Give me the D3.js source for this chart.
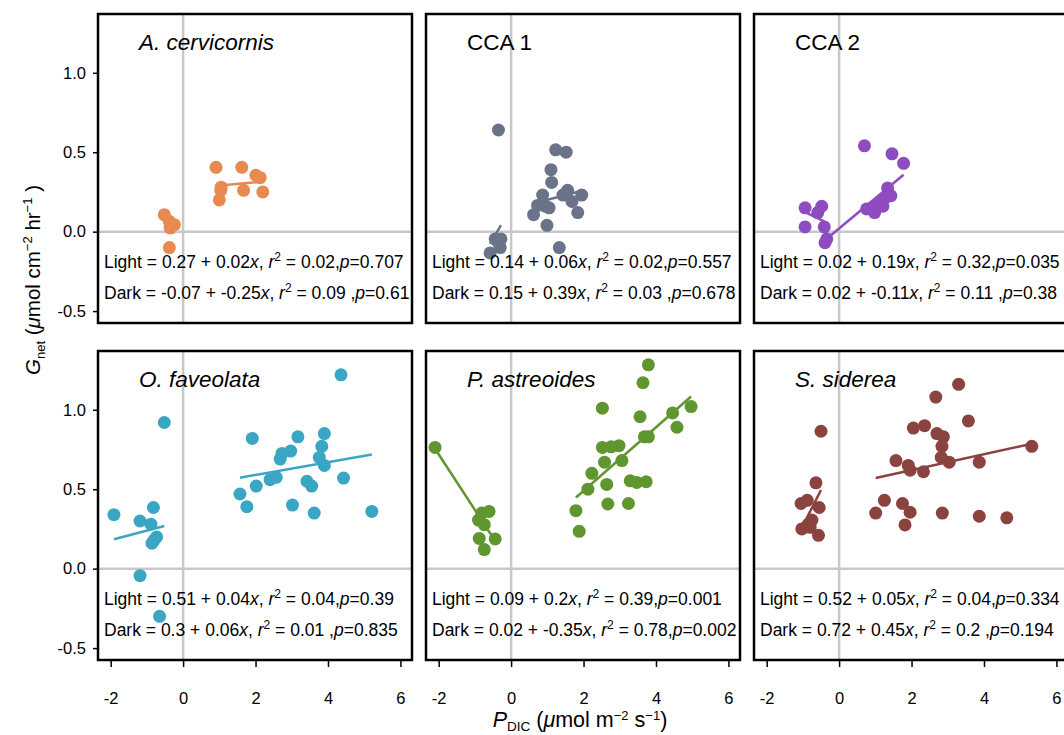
<!DOCTYPE html>
<meta charset="utf-8">
<html>
<head>
<title>Gnet vs PDIC</title>
<style>
  body { margin: 0; background: #fff; }
  text { font-family: "Liberation Sans", Arial, sans-serif; fill: #000; }
</style>
</head>
<body>
<div id="my_dataviz"></div>

<script src="https://d3js.org/d3.v7.min.js"></script>
<script>

// panel names, colours
var panelNames = ["A. cervicornis", "CCA 1", "CCA 2", "O. faveolata", "P. astreoides", "S. siderea"];
var panelItalic = [true, false, false, true, true, true];
var panelColors = ["#E8894F", "#6B7388", "#8E4CC0", "#3AA6C3", "#5F962F", "#8A433E"];

// points, [PDIC, Gnet]
var acerLight = [[0.91,0.405],[1.62,0.405],[2.01,0.355],[2.13,0.34],[1.04,0.26],[1.00,0.20],[1.67,0.26],[2.20,0.25],[1.05,0.28]];
var acerDark  = [[-0.52,0.107],[-0.38,0.065],[-0.24,0.044],[-0.36,0.023],[-0.38,-0.10]];

var cca1Light = [[1.23,0.515],[1.52,0.50],[1.10,0.39],[1.12,0.31],[0.87,0.23],[1.56,0.26],[1.43,0.23],[1.95,0.23],[1.68,0.19],
                 [0.73,0.165],[0.94,0.16],[1.05,0.15],[0.62,0.107],[1.84,0.12],[0.99,0.04],[1.33,-0.10]];
var cca1Dark  = [[-0.35,0.64],[-0.44,-0.046],[-0.28,-0.046],[-0.58,-0.134],[-0.30,-0.10],[-0.35,-0.07]];

var cca2Light = [[0.70,0.54],[1.46,0.49],[1.78,0.43],[1.34,0.275],[1.43,0.226],[0.76,0.143],[0.98,0.12],[1.09,0.176],
                 [1.21,0.16],[0.90,0.15],[1.26,0.21],[-0.34,-0.046],[-0.39,-0.07]];
var cca2Dark  = [[-0.94,0.15],[-0.48,0.16],[-0.59,0.12],[-0.94,0.03],[-0.41,0.03]];

var ofavLight = [[4.36,1.22],[1.91,0.82],[3.17,0.83],[3.90,0.85],[3.83,0.77],[2.73,0.725],[2.97,0.74],[2.68,0.69],[3.76,0.70],
                 [3.90,0.65],[2.40,0.56],[2.57,0.575],[3.42,0.55],[3.55,0.52],[4.43,0.57],[2.02,0.52],[1.57,0.47],[1.76,0.39],
                 [3.02,0.40],[3.62,0.35],[5.21,0.36]];
var ofavDark  = [[-0.52,0.92],[-1.91,0.34],[-0.82,0.385],[-1.19,0.30],[-0.89,0.28],[-0.73,0.20],[-0.80,0.18],[-0.86,0.16],
                 [-1.19,-0.044],[-0.65,-0.30]];

var pastLight = [[3.79,1.283],[3.64,1.17],[2.52,1.01],[3.56,0.956],[4.97,1.02],[4.46,0.98],[4.58,0.89],[3.68,0.83],[3.79,0.83],
                 [2.52,0.763],[2.76,0.767],[2.98,0.774],[2.58,0.67],[3.06,0.68],[2.23,0.60],[2.12,0.50],[2.64,0.53],[3.29,0.553],
                 [3.47,0.543],[3.73,0.547],[1.79,0.365],[2.67,0.407],[3.24,0.41],[1.88,0.235]];
var pastDark  = [[-2.10,0.763],[-0.81,0.35],[-0.61,0.36],[-0.90,0.306],[-0.74,0.277],[-0.88,0.19],[-0.44,0.187],[-0.74,0.12]];

var ssidLight = [[3.30,1.16],[2.67,1.08],[3.57,0.93],[2.05,0.885],[2.36,0.90],[2.70,0.85],[2.88,0.83],[2.84,0.77],[2.82,0.70],
                 [3.04,0.67],[5.32,0.77],[3.87,0.67],[1.57,0.68],[1.91,0.65],[1.96,0.62],[2.33,0.61],[1.25,0.43],[1.75,0.41],
                 [1.01,0.35],[1.96,0.355],[2.85,0.35],[3.87,0.33],[4.63,0.32],[1.82,0.275]];
var ssidDark  = [[-0.50,0.865],[-0.64,0.54],[-1.05,0.41],[-0.88,0.43],[-0.55,0.385],[-0.75,0.306],[-0.85,0.28],[-1.03,0.25],
                 [-0.57,0.21],[-0.80,0.26]];

var lightPoints = [acerLight, cca1Light, cca2Light, ofavLight, pastLight, ssidLight];
var darkPoints  = [acerDark, cca1Dark, cca2Dark, ofavDark, pastDark, ssidDark];

// regression coefficients [intercept, slope] and printed stats [a, b, r2, p]
var lightFit = [[0.27,0.02],[0.14,0.06],[0.02,0.19],[0.51,0.04],[0.09,0.2],[0.52,0.05]];
var darkFit  = [[-0.07,-0.25],[0.15,0.39],[0.02,-0.11],[0.3,0.06],[0.02,-0.35],[0.72,0.45]];
var lightStats = [["0.27","0.02","0.02","0.707"],["0.14","0.06","0.02","0.557"],["0.02","0.19","0.32","0.035"],
                  ["0.51","0.04","0.04","0.39"],["0.09","0.2","0.39","0.001"],["0.52","0.05","0.04","0.334"]];
var darkStats  = [["-0.07","-0.25","0.09 ","0.61"],["0.15","0.39","0.03 ","0.678"],["0.02","-0.11","0.11 ","0.38"],
                  ["0.3","0.06","0.01 ","0.835"],["0.02","-0.35","0.78","0.002"],["0.72","0.45","0.2 ","0.194"]];

var xTicks = [-2, 0, 2, 4, 6];
var yTicks = [-0.5, 0, 0.5, 1.0];

// layout
var panelW = 314, panelH = 309;
var panelLeft = [98, 426, 754];
var panelTop = [14, 351];

var svg = d3.select("#my_dataviz")
  .append("svg")
    .attr("width", 1064)
    .attr("height", 735);

var x = d3.scaleLinear().domain([-2.35, 6.32]).range([0, panelW]);
var y = d3.scaleLinear().domain([-0.575, 1.37]).range([panelH, 0]);

var line = d3.line()
  .x(function(d) { return x(d[0]) })
  .y(function(d) { return y(d[1]) });

function fitSegment(fit, pts) {
  var ext = d3.extent(pts, function(d) { return d[0] });
  return ext.map(function(v) { return [v, fit[0] + fit[1] * v] });
}

function addEquation(g, label, s, yPos) {
  var t = g.append("text").attr("x", 6).attr("y", yPos).style("font-size", "17.5px");
  t.append("tspan").text(label + " = " + s[0] + " + " + s[1]);
  t.append("tspan").style("font-style", "italic").text("x");
  t.append("tspan").text(", ");
  t.append("tspan").style("font-style", "italic").text("r");
  t.append("tspan").attr("dy", -7).style("font-size", "12px").text("2");
  t.append("tspan").attr("dy", 7).text(" = " + s[2] + ",");
  t.append("tspan").style("font-style", "italic").text("p");
  t.append("tspan").text("=" + s[3]);
}

panelNames.forEach(function(name, i) {
  var col = i % 3, row = Math.floor(i / 3);
  var g = svg.append("g")
    .attr("transform", "translate(" + panelLeft[col] + "," + panelTop[row] + ")");

  // zero reference lines
  g.append("line")
    .attr("x1", 0).attr("x2", panelW)
    .attr("y1", y(0)).attr("y2", y(0))
    .attr("stroke", "#c8c8c8").attr("stroke-width", 2.5);
  g.append("line")
    .attr("x1", x(0)).attr("x2", x(0))
    .attr("y1", 0).attr("y2", panelH)
    .attr("stroke", "#c8c8c8").attr("stroke-width", 2.5);

  g.selectAll(".pt")
    .data(lightPoints[i].concat(darkPoints[i]))
    .enter()
    .append("circle")
      .attr("cx", function(d) { return x(d[0]) })
      .attr("cy", function(d) { return y(d[1]) })
      .attr("r", 6.5)
      .attr("fill", panelColors[i]);

  // fitted lines
  g.append("path")
    .datum(fitSegment(lightFit[i], lightPoints[i]))
    .attr("fill", "none").attr("stroke", panelColors[i]).attr("stroke-width", 2.5)
    .attr("d", line);
  g.append("path")
    .datum(fitSegment(darkFit[i], darkPoints[i]))
    .attr("fill", "none").attr("stroke", panelColors[i]).attr("stroke-width", 2.5)
    .attr("d", line);

  g.append("text")
    .attr("x", 41).attr("y", 36)
    .style("font-size", "22.5px")
    .style("font-style", panelItalic[i] ? "italic" : "normal")
    .text(name);

  addEquation(g, "Light", lightStats[i], 254);
  addEquation(g, "Dark", darkStats[i], 285);

  g.append("rect")
    .attr("width", panelW).attr("height", panelH)
    .attr("fill", "none").attr("stroke", "#000").attr("stroke-width", 2.5);

  // axes
  if (col == 0) {
    var ya = g.append("g")
      .call(d3.axisLeft(y).tickValues(yTicks).tickSize(5).tickPadding(7)
        .tickFormat(function(d) { return d.toFixed(1) }));
    ya.select(".domain").remove();
    ya.selectAll("line").attr("stroke-width", 1.5);
    ya.selectAll("text").style("font-size", "16.5px").style("font-family", "Liberation Sans, Arial, sans-serif");
  }
  if (row == 1) {
    var xa = g.append("g")
      .attr("transform", "translate(0," + panelH + ")")
      .call(d3.axisBottom(x).tickValues(xTicks).tickSize(7).tickPadding(25)
        .tickFormat(function(d) { return String(d) }));
    xa.select(".domain").remove();
    xa.selectAll("line").attr("stroke-width", 1.5);
    xa.selectAll("text").style("font-size", "16.5px").style("font-family", "Liberation Sans, Arial, sans-serif");
  }
});

// axis titles
var yl = svg.append("text")
  .attr("transform", "translate(40,280) rotate(-90)")
  .attr("text-anchor", "middle")
  .style("font-size", "20.5px");
yl.append("tspan").style("font-style", "italic").text("G");
yl.append("tspan").attr("dy", 5).style("font-size", "13px").text("net");
yl.append("tspan").attr("dy", -5).text(" (");
yl.append("tspan").style("font-style", "italic").text("\u03bc");
yl.append("tspan").text("mol cm");
yl.append("tspan").attr("dy", -8).style("font-size", "13px").text("\u22122");
yl.append("tspan").attr("dy", 8).text(" hr");
yl.append("tspan").attr("dy", -8).style("font-size", "13px").text("\u22121");
yl.append("tspan").attr("dy", 8).text(" )");

var xl = svg.append("text")
  .attr("x", 580).attr("y", 727)
  .attr("text-anchor", "middle")
  .style("font-size", "21.5px");
xl.append("tspan").style("font-style", "italic").text("P");
xl.append("tspan").attr("dy", 4).style("font-size", "13.5px").text("DIC");
xl.append("tspan").attr("dy", -4).text(" (");
xl.append("tspan").style("font-style", "italic").text("\u03bc");
xl.append("tspan").text("mol m");
xl.append("tspan").attr("dy", -7).style("font-size", "13px").text("\u22122");
xl.append("tspan").attr("dy", 7).text(" s");
xl.append("tspan").attr("dy", -7).style("font-size", "13px").text("\u22121");
xl.append("tspan").attr("dy", 7).text(")");

</script>
</body>
</html>
